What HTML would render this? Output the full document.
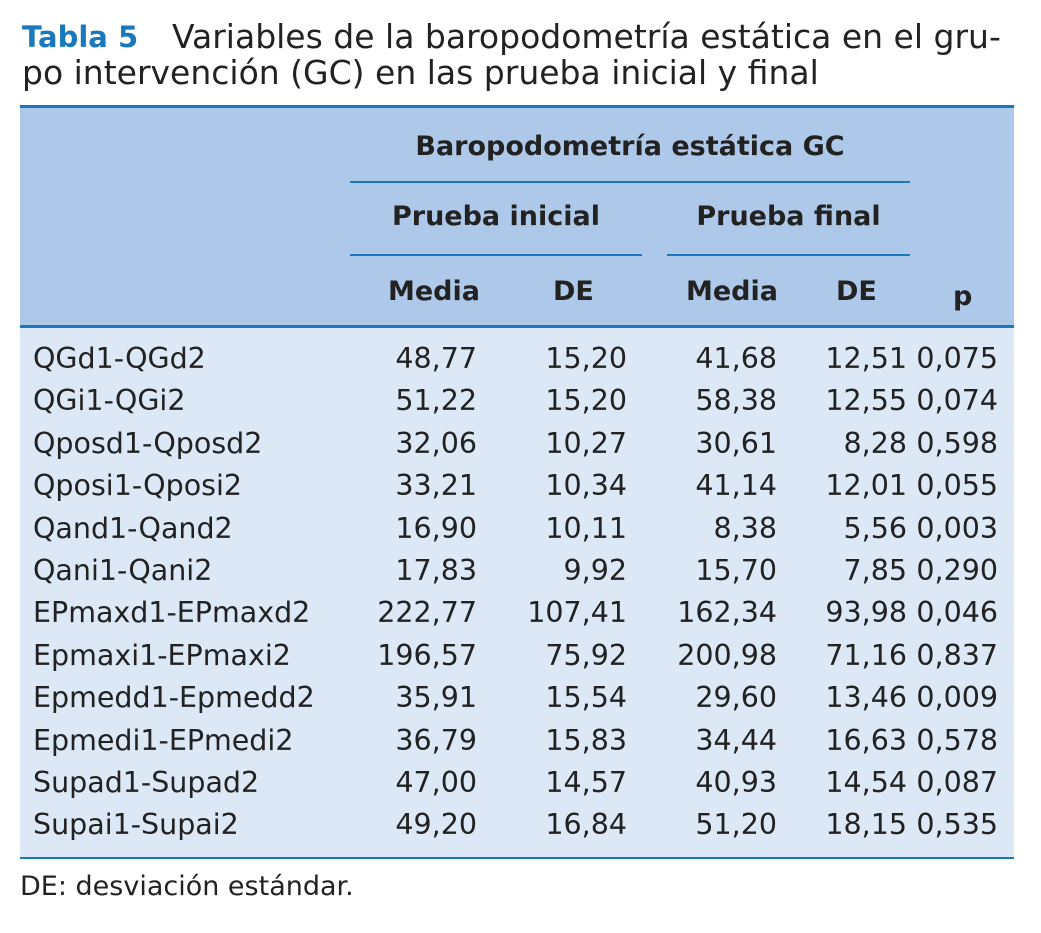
<!DOCTYPE html>
<html><head><meta charset="utf-8"><style>
body{margin:0;width:1041px;height:933px;background:#fff;position:relative;overflow:hidden;font-family:"DejaVu Sans","Liberation Sans",sans-serif;color:#222}
.a{position:absolute;white-space:nowrap}
.t{font-size:33px}
.h{font-weight:bold;font-size:27px}
.c{font-size:28.5px;line-height:34px}
.r{text-align:right}
.ln{position:absolute;background:#1a78bd}
</style></head><body>
<div class="a" style="left:22px;top:20px;font-size:29px;font-weight:bold;color:#1a78bd">Tabla 5</div>
<div class="a t" style="left:172px;top:17px">Variables de la baropodometría estática en el gru-</div>
<div class="a t" style="left:22px;top:53px">po intervención (GC) en las prueba inicial y final</div>
<div class="a" style="left:20px;top:106px;width:994px;height:220px;background:#adc8e8"></div>
<div class="a" style="left:20px;top:326px;width:994px;height:533px;background:#dce8f6"></div>
<div class="ln" style="left:20px;top:105px;width:994px;height:3px"></div>
<div class="ln" style="left:20px;top:325px;width:994px;height:3px"></div>
<div class="ln" style="left:20px;top:857px;width:994px;height:2px"></div>
<div class="ln" style="left:350px;top:181px;width:560px;height:2px"></div>
<div class="ln" style="left:350px;top:254px;width:292px;height:2px"></div>
<div class="ln" style="left:667px;top:254px;width:243px;height:2px"></div>
<div class="a h" style="left:350px;width:560px;text-align:center;top:131px">Baropodometría estática GC</div>
<div class="a h" style="left:350px;width:292px;text-align:center;top:201px">Prueba inicial</div>
<div class="a h" style="left:667px;width:243px;text-align:center;top:201px">Prueba final</div>
<div class="a h" style="left:388px;top:276px">Media</div>
<div class="a h" style="left:553px;top:276px">DE</div>
<div class="a h" style="left:686px;top:276px">Media</div>
<div class="a h" style="left:836px;top:276px">DE</div>
<div class="a h" style="left:953px;top:281px">p</div>
<div id="rows"></div>
<div class="a" style="left:20px;top:871px;font-size:27px">DE: desviación estándar.</div>
<script>
const labels=["QGd1-QGd2","QGi1-QGi2","Qposd1-Qposd2","Qposi1-Qposi2","Qand1-Qand2","Qani1-Qani2","EPmaxd1-EPmaxd2","Epmaxi1-EPmaxi2","Epmedd1-Epmedd2","Epmedi1-EPmedi2","Supad1-Supad2","Supai1-Supai2"];
const mediaIni=["48,77","51,22","32,06","33,21","16,90","17,83","222,77","196,57","35,91","36,79","47,00","49,20"];
const deIni=["15,20","15,20","10,27","10,34","10,11","9,92","107,41","75,92","15,54","15,83","14,57","16,84"];
const mediaFin=["41,68","58,38","30,61","41,14","8,38","15,70","162,34","200,98","29,60","34,44","40,93","51,20"];
const deFin=["12,51","12,55","8,28","12,01","5,56","7,85","93,98","71,16","13,46","16,63","14,54","18,15"];
const pVals=["0,075","0,074","0,598","0,055","0,003","0,290","0,046","0,837","0,009","0,578","0,087","0,535"];
const root=document.getElementById('rows');
const cols=[[mediaIni,477,'media-inicial'],[deIni,627,'de-inicial'],[mediaFin,777,'media-final'],[deFin,907,'de-final'],[pVals,998,'p-value']];
labels.forEach((lab,i)=>{
  const y=342+i*42.4;
  const d=document.createElement('div');
  d.className='a c';
  
  
  d.style.left='33px';d.style.top=y+'px';d.textContent=lab;root.appendChild(d);
  cols.forEach(([arr,right,name])=>{
    const e=document.createElement('div');
    e.className='a c r';
    
    
    e.style.right=(1041-right)+'px';e.style.top=y+'px';e.textContent=arr[i];root.appendChild(e);
  });
});
</script>
</body></html>
